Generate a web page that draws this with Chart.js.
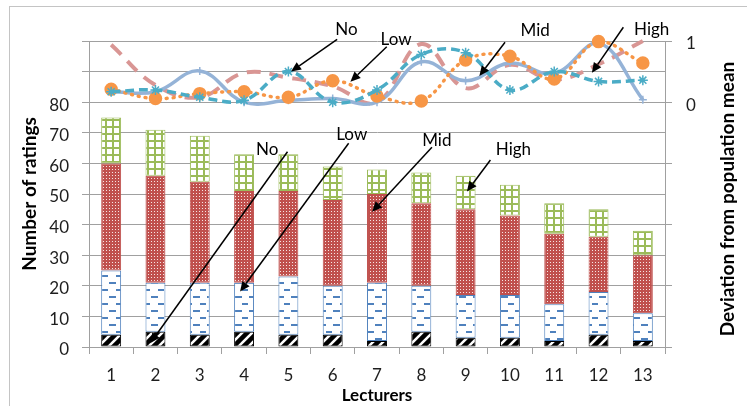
<!DOCTYPE html>
<html>
<head>
<meta charset="utf-8">
<script src="https://cdn.jsdelivr.net/npm/chart.js@4.4.1/dist/chart.umd.min.js"></script>
<style>
html, body { margin: 0; padding: 0; background: #fff; }
</style>
</head>
<body>
<canvas id="chart" width="747" height="406"></canvas>
<script>
'use strict';
// lecturers on the x axis
var lecturers = ['1', '2', '3', '4', '5', '6', '7', '8', '9', '10', '11', '12', '13'];
// number of ratings per level (stacked bars, left axis)
var ratNo   = [4, 5, 4, 5, 4, 4, 2, 5, 3, 3, 2, 4, 2];
var ratLow  = [21, 16, 17, 16, 19, 16, 19, 15, 14, 14, 12, 14, 9];
var ratMid  = [35, 35, 33, 30, 28, 28, 29, 27, 28, 26, 23, 18, 19];
var ratHigh = [15, 15, 15, 12, 12, 11, 8, 10, 11, 10, 10, 9, 8];
// deviation from population mean (lines, right axis)
var devNo   = [0.17, 0.2, 0.08, 0.03, 0.5, 0.0, 0.2, 0.78, 0.81, 0.2, 0.5, 0.34, 0.36];
var devLow  = [0.21, 0.06, 0.14, 0.17, 0.08, 0.35, 0.1, 0.02, 0.69, 0.75, 0.38, 0.99, 0.64];
var devMid  = [0.17, 0.17, 0.51, 0.0, 0.03, 0.06, 0.0, 0.66, 0.35, 0.64, 0.47, 0.97, 0.04];
var devHigh = [0.94, 0.28, 0.08, 0.48, 0.4, 0.26, 0.0, 0.95, 0.23, 0.61, 0.37, 0.62, 1.0];

// callouts: text spot, arrow start, arrow tip (category index, ratings)
var notes = [
  { text: 'No',   at: [5.31, 103.8], from: [5.10, 100.5], to: [4.06, 90.0] },
  { text: 'Low',  at: [6.43, 100.6], from: [6.22, 98.1],  to: [5.40, 86.7] },
  { text: 'Mid',  at: [9.57, 103.4], from: [8.89, 99.6],  to: [8.31, 88.6] },
  { text: 'High', at: [12.2, 103.8], from: [11.56, 104.5], to: [10.85, 89.6] },
  { text: 'No',   at: [3.52, 64.6],  from: [3.98, 63.8],  to: [0.88, 1.2] },
  { text: 'Low',  at: [5.43, 69.6],  from: [5.36, 66.6],  to: [2.91, 18.1] },
  { text: 'Mid',  at: [7.35, 67.4],  from: [7.24, 65.3],  to: [5.89, 44.2] },
  { text: 'High', at: [9.08, 64.4],  from: [8.56, 61.1],  to: [8.03, 50.8] }
];

var FONT = 'Lato, "Open Sans", sans-serif';
var GRID = '#a0a0a0';
var INK = '#1e1e1e';

// small canvas tiles for the Excel-like fill patterns
function tile(w, h, paint) {
  var c = document.createElement('canvas');
  c.width = w; c.height = h;
  var g = c.getContext('2d');
  paint(g, w, h);
  return g.createPattern(c, 'repeat');
}
var fillNo = tile(10, 10, function(g) {
  g.fillStyle = '#fff'; g.fillRect(0, 0, 10, 10);
  g.strokeStyle = '#000'; g.lineWidth = 4.5;
  [[0, 10, 10, 0], [-2, 2, 2, -2], [8, 12, 12, 8]].forEach(function(s) {
    g.beginPath(); g.moveTo(s[0], s[1]); g.lineTo(s[2], s[3]); g.stroke();
  });
});
var fillLow = tile(14, 14, function(g) {
  g.fillStyle = '#fff'; g.fillRect(0, 0, 14, 14);
  g.fillStyle = '#4F81BD';
  g.fillRect(0, 2, 4, 2); g.fillRect(11, 2, 3, 2);
  g.fillRect(4, 9, 6, 2);
});
var fillMid = tile(3, 3, function(g) {
  g.fillStyle = '#C0504D'; g.fillRect(0, 0, 3, 3);
  g.fillStyle = 'rgba(255,255,255,0.85)'; g.fillRect(1, 1, 1, 1);
});
var fillHigh = tile(7, 7, function(g) {
  g.fillStyle = '#fff'; g.fillRect(0, 0, 7, 7);
  g.fillStyle = '#9BBB59';
  g.fillRect(0, 0, 7, 2); g.fillRect(0, 0, 2, 7);
});

function bar(label, data, fill, edge) {
  return { type: 'bar', label: label, data: data, yAxisID: 'y', order: 2,
    backgroundColor: fill, borderColor: edge, borderWidth: 1, borderSkipped: false,
    barPercentage: 0.45, categoryPercentage: 1 };
}
function line(label, data, color, extra) {
  var d = { type: 'line', label: label, data: data, yAxisID: 'y2', order: 1,
    borderColor: color, backgroundColor: color, borderWidth: 3.5, tension: 0.4,
    fill: false, clip: false, pointBorderColor: color, pointBackgroundColor: color };
  return Object.assign(d, extra);
}

function arrow(ctx, x1, y1, x2, y2) {
  var a = Math.atan2(y2 - y1, x2 - x1), L = 10, W = 4.5;
  var bx = x2 - L * Math.cos(a), by = y2 - L * Math.sin(a);
  ctx.beginPath(); ctx.moveTo(x1, y1); ctx.lineTo(bx, by); ctx.stroke();
  ctx.beginPath(); ctx.moveTo(x2, y2);
  ctx.lineTo(bx + W * Math.sin(a), by - W * Math.cos(a));
  ctx.lineTo(bx - W * Math.sin(a), by + W * Math.cos(a));
  ctx.closePath(); ctx.fill();
}

var decor = {
  id: 'decor',
  beforeDraw: function(chart) {
    var ctx = chart.ctx;
    ctx.save();
    ctx.fillStyle = '#fff';
    ctx.fillRect(0, 0, chart.width, chart.height);
    ctx.strokeStyle = '#c4c4c4'; ctx.lineWidth = 1;
    ctx.strokeRect(9.5, 6.5, chart.width + 20, chart.height + 20);
    ctx.restore();
  },
  afterDraw: function(chart) {
    var ctx = chart.ctx, sx = chart.scales.x, sy = chart.scales.y;
    ctx.save();
    // right axis title, reading bottom to top
    ctx.fillStyle = '#000';
    ctx.font = 'bold 19px ' + FONT;
    ctx.textAlign = 'center'; ctx.textBaseline = 'middle';
    ctx.translate(728, (chart.chartArea.top + chart.chartArea.bottom) / 2 + 5);
    ctx.rotate(-Math.PI / 2);
    ctx.fillText('Deviation from population mean', 0, 0);
    ctx.restore();

    ctx.save();
    ctx.strokeStyle = '#000'; ctx.fillStyle = '#000'; ctx.lineWidth = 1.5;
    ctx.font = '17px ' + FONT;
    ctx.textAlign = 'center'; ctx.textBaseline = 'middle';
    notes.forEach(function(n) {
      arrow(ctx, sx.getPixelForValue(n.from[0]), sy.getPixelForValue(n.from[1]),
        sx.getPixelForValue(n.to[0]), sy.getPixelForValue(n.to[1]));
      ctx.fillText(n.text, sx.getPixelForValue(n.at[0]), sy.getPixelForValue(n.at[1]));
    });
    ctx.restore();
  }
};

var ctx = document.getElementById('chart').getContext('2d');
var chart = new Chart(ctx, {
  data: {
    labels: lecturers,
    datasets: [
      bar('No', ratNo, fillNo, '#000'),
      bar('Low', ratLow, fillLow, '#4F81BD'),
      bar('Mid', ratMid, fillMid, '#C0504D'),
      bar('High', ratHigh, fillHigh, '#9BBB59'),
      line('No dev', devNo, '#4BACC6', { borderDash: [9, 5], pointStyle: 'star', pointRadius: 5, pointBorderWidth: 1.5 }),
      line('Low dev', devLow, '#F79646', { borderDash: [1, 6], borderCapStyle: 'round', borderWidth: 3.5, pointStyle: 'circle', pointRadius: 5 }),
      line('Mid dev', devMid, '#95B3D7', { borderWidth: 3.5, pointStyle: 'cross', pointRadius: 4, pointBorderWidth: 1.5 }),
      line('High dev', devHigh, '#D99694', { borderDash: [14, 9], borderWidth: 4, pointRadius: 0 })
    ]
  },
  options: {
    responsive: false,
    animation: false,
    devicePixelRatio: 1,
    layout: { padding: { top: 41, left: 0, right: 0, bottom: 0 } },
    plugins: {
      legend: { display: false },
      tooltip: { enabled: false }
    },
    scales: {
      x: {
        stacked: true,
        offset: true,
        grid: { offset: true, drawOnChartArea: false, drawTicks: true, tickLength: 7, color: GRID },
        border: { color: GRID },
        ticks: { color: INK, font: { family: FONT, size: 17 }, padding: 11, maxRotation: 0 },
        title: { display: true, text: 'Lecturers', color: '#000', font: { family: FONT, size: 17, weight: 'bold' }, padding: { top: 0, bottom: 0 } },
        afterFit: function(s) { s.height = 59; }
      },
      y: {
        stacked: true,
        min: 0, max: 100,
        grid: { color: GRID, tickLength: 7 },
        border: { color: GRID },
        ticks: { stepSize: 10, color: INK, padding: 13, labelOffset: 3, font: { family: FONT, size: 17 },
          callback: function(v) { return v <= 80 ? v : ''; } },
        title: { display: true, text: 'Number of ratings', color: '#000', font: { family: FONT, size: 19, weight: 'bold' }, padding: { top: 18, bottom: 0 } },
        afterFit: function(s) { s.width = 89; }
      },
      y2: {
        position: 'right',
        min: -4, max: 1,
        grid: { drawOnChartArea: false, color: GRID, tickLength: 7 },
        border: { color: GRID },
        ticks: { stepSize: 1, color: INK, padding: 14, labelOffset: 3, font: { family: FONT, size: 17 },
          callback: function(v) { return v >= 0 ? v : ''; } },
        afterFit: function(s) { s.width = 82; }
      }
    }
  },
  plugins: [decor]
});
</script>
</body>
</html>
